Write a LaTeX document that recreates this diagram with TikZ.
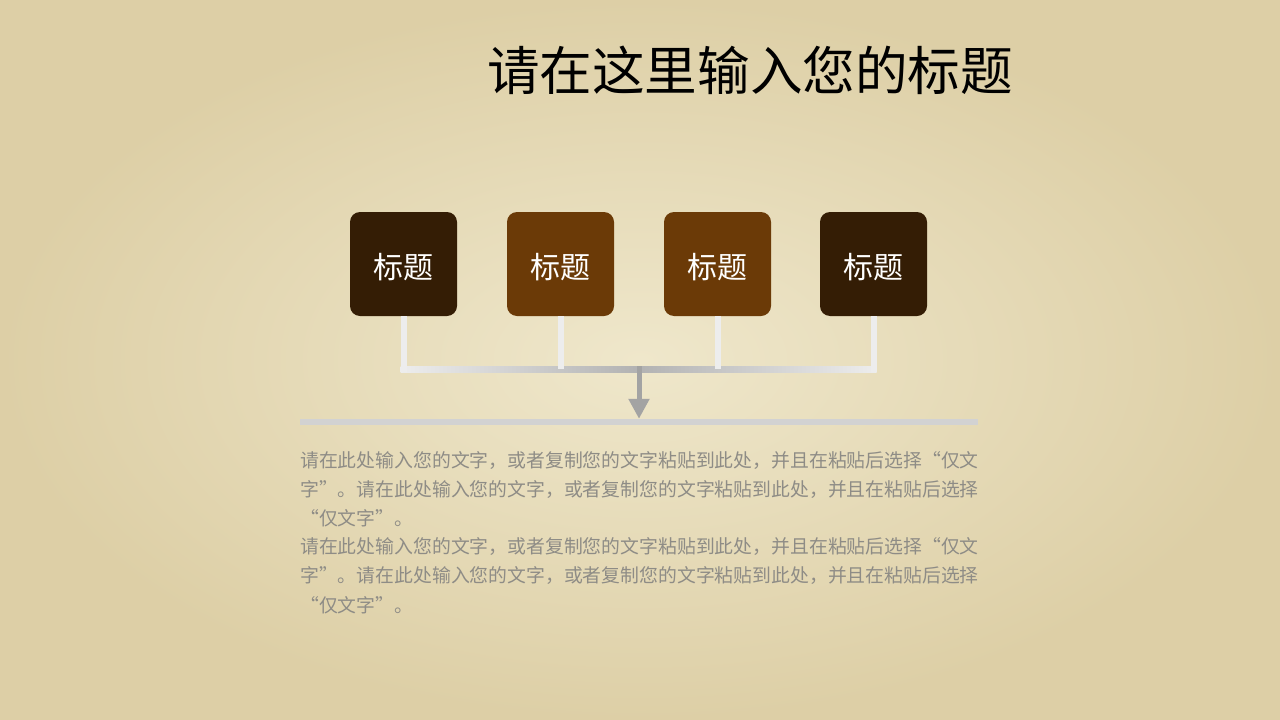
\documentclass[tikz,border=0pt]{standalone}
\usepackage{fontspec}
\setmainfont{Noto Sans CJK SC}
\newfontfamily\cjk{Noto Sans CJK SC}
\usetikzlibrary{arrows.meta,calc}
\definecolor{paper}{HTML}{DDCFA6}
\definecolor{paperlight}{HTML}{EFE7CB}
\definecolor{darkbox}{HTML}{341D05}
\definecolor{brownbox}{HTML}{6B3A07}
\definecolor{linelight}{HTML}{EDEDED}
\definecolor{linemid}{HTML}{B2B2B2}
\definecolor{arrowgray}{HTML}{A3A3A3}
\definecolor{bargray}{HTML}{D2D2D2}
\definecolor{bodytext}{HTML}{8E8C86}
\tikzset{
  tbox/.style={rounded corners=10pt, minimum width=107pt, minimum height=104pt, inner sep=0pt,
    label={[text=white, font=\cjk\fontsize{30}{30}\selectfont, yshift=-3pt]center:#1}},
  conn/.style={draw=linelight, line width=6pt},
  body/.style={anchor=west, inner sep=0pt, text=bodytext, font=\cjk\fontsize{18.85}{18.85}\selectfont}
}
\begin{document}
\begin{tikzpicture}[x=1pt,y=-1pt]
\useasboundingbox (0,0) rectangle (1280,720);
\fill[paper] (0,0) rectangle (1280,720);
\shade[inner color=paperlight, outer color=paper] (0,0) rectangle (1280,720);
% title
\node[inner sep=0pt, font=\cjk\fontsize{52.6}{52.6}\selectfont, text=black] (title) at (750,70) {请在这里输入您的标题};
% boxes
\node[tbox=标题, fill=darkbox] (b1) at (403.5,264) {};
\node[tbox=标题, fill=brownbox] (b2) at (560.5,264) {};
\node[tbox=标题, fill=brownbox] (b3) at (717.5,264) {};
\node[tbox=标题, fill=darkbox] (b4) at (873.5,264) {};
% joints
\coordinate (j1) at (403.5,369);
\coordinate (j2) at (560.5,369);
\coordinate (j3) at (717.5,369);
\coordinate (j4) at (873.5,369);
\coordinate (jm) at (639,369);
% horizontal gradient line
\shade[left color=linelight, right color=linelight, middle color=linemid] ($(j1)+(-3,-3)$) rectangle ($(j4)+(3,3)$);
\draw[conn] (b1.south) -- ($(j1)+(0,3)$);
\draw[conn] (b2.south) -- (j2);
\draw[conn] (b3.south) -- (j3);
\draw[conn] (b4.south) -- ($(j4)+(0,3)$);
% bar
\node[fill=bargray, minimum width=678pt, minimum height=6pt, inner sep=0pt] (bar) at (639,422) {};
\draw[arrowgray, line width=5pt, -{Triangle[width=20pt,length=20pt]}] ($(jm)+(0,-3)$) -- (bar.north);
% body text
\node[body] (t1) at (300,461) {请在此处输入您的文字，或者复制您的文字粘贴到此处，并且在粘贴后选择“仅文};
\node[body] (t2) at (300,490) {字”。请在此处输入您的文字，或者复制您的文字粘贴到此处，并且在粘贴后选择};
\node[body] (t3) at (300,518) {“仅文字”。};
\node[body] (t4) at (300,547) {请在此处输入您的文字，或者复制您的文字粘贴到此处，并且在粘贴后选择“仅文};
\node[body] (t5) at (300,576) {字”。请在此处输入您的文字，或者复制您的文字粘贴到此处，并且在粘贴后选择};
\node[body] (t6) at (300,605) {“仅文字”。};
\end{tikzpicture}
\end{document}
